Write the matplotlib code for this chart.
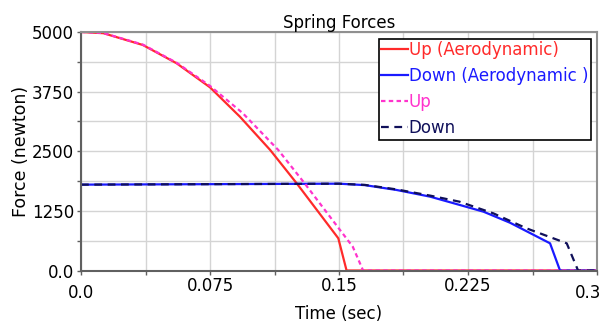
import matplotlib
matplotlib.use("Agg")
import matplotlib.pyplot as plt
from matplotlib.ticker import MultipleLocator, FixedLocator
from matplotlib.transforms import ScaledTranslation

plt.rcParams['font.family'] = ['DejaVu Sans']

# Data
t_up_aero = [0.0, 0.013, 0.036, 0.0556, 0.075, 0.0924, 0.110, 0.1254, 0.1496, 0.1544, 0.3]
f_up_aero = [5000, 4975, 4727, 4344, 3840, 3224, 2526, 1828, 675, 0, 0]

t_down_aero = [0.0, 0.15, 0.165, 0.1835, 0.203, 0.2203, 0.234, 0.2494, 0.2727, 0.2785, 0.3]
f_down_aero = [1800, 1820, 1790, 1688, 1548, 1373, 1233, 1002, 570, 0, 0]

t_up = [0.0, 0.013, 0.036, 0.0556, 0.075, 0.094, 0.1147, 0.130, 0.1506, 0.158, 0.164, 0.3]
f_up = [5000, 4978, 4735, 4355, 3870, 3300, 2526, 1828, 849, 499, 0, 0]

t_down = [0.0, 0.15, 0.165, 0.1835, 0.203, 0.220, 0.2397, 0.259, 0.2824, 0.289, 0.3]
f_down = [1800, 1820, 1795, 1700, 1570, 1443, 1199, 884, 570, 0, 0]

x_ticks = [0.0, 0.075, 0.15, 0.225, 0.3]
x_tick_labels = ["0.0", "0.075", "0.15", "0.225", "0.3"]
y_ticks = [0, 1250, 2500, 3750, 5000]
y_tick_labels = ["0.0", "1250", "2500", "3750", "5000"]

series_labels = ["Up (Aerodynamic)", "Down (Aerodynamic )", "Up", "Down"]
series_colors = ["#ff2a2a", "#1a1aff", "#ff33cc", "#10105a"]

fig = plt.figure(figsize=(6.09, 3.24), dpi=100)
ax = fig.add_axes([81 / 609, 1 - 270.5 / 324, (597 - 81) / 609, (270.5 - 32) / 324])

l1, = ax.plot(t_up_aero, f_up_aero, color=series_colors[0], lw=1.6, label=series_labels[0])
l2, = ax.plot(t_down_aero, f_down_aero, color=series_colors[1], lw=1.6, label=series_labels[1])
l3, = ax.plot(t_up, f_up, color=series_colors[2], lw=1.6, dashes=(2, 1.5), label=series_labels[2])
l4, = ax.plot(t_down, f_down, color=series_colors[3], lw=1.6, dashes=(3.5, 2.5), label=series_labels[3])

ax.set_xlim(0, 0.3)
ax.set_ylim(0, 5000)
ax.xaxis.set_major_locator(FixedLocator(x_ticks))
ax.set_xticklabels(x_tick_labels)
ax.xaxis.set_minor_locator(MultipleLocator(0.0375))
ax.yaxis.set_major_locator(FixedLocator(y_ticks))
ax.set_yticklabels(y_tick_labels)
ax.yaxis.set_minor_locator(MultipleLocator(625))

ax.grid(True, which='both', color='#d4d4d4', lw=1.0)
ax.set_axisbelow(True)

ax.tick_params(which='both', direction='out', length=3, width=1, color='#606060',
               labelsize=12, labelcolor='black')
ax.tick_params(axis='x', which='major', pad=2)
ax.tick_params(axis='y', which='major', pad=2)

# stagger end labels like the original
ticks = ax.xaxis.get_major_ticks()
ticks[0].set_pad(7)
ticks[-1].set_pad(7)
lab = ticks[-1].label1
lab.set_transform(lab.get_transform() + ScaledTranslation(-9 / 100, 0, fig.dpi_scale_trans))

for side in ['left', 'bottom']:
    ax.spines[side].set_color('#606060')
    ax.spines[side].set_linewidth(1.5)
for side in ['top', 'right']:
    ax.spines[side].set_color('#909090')
    ax.spines[side].set_linewidth(1.5)

ax.set_title("Spring Forces", fontsize=12, pad=2)
ax.set_xlabel("Time (sec)", fontsize=12, labelpad=2)
ax.set_ylabel("Force (newton)", fontsize=12.5, labelpad=1)

leg = ax.legend(handles=[l1, l2, l3, l4], loc='upper right',
                bbox_to_anchor=(0.988, 0.972), fontsize=12, handlelength=1.6,
                handletextpad=0.05, borderpad=0.15, borderaxespad=0,
                labelspacing=0.48, fancybox=False, framealpha=1,
                edgecolor='black', labelcolor='linecolor')
leg.get_frame().set_linewidth(1.2)

fig.savefig("out.png", dpi=100)
